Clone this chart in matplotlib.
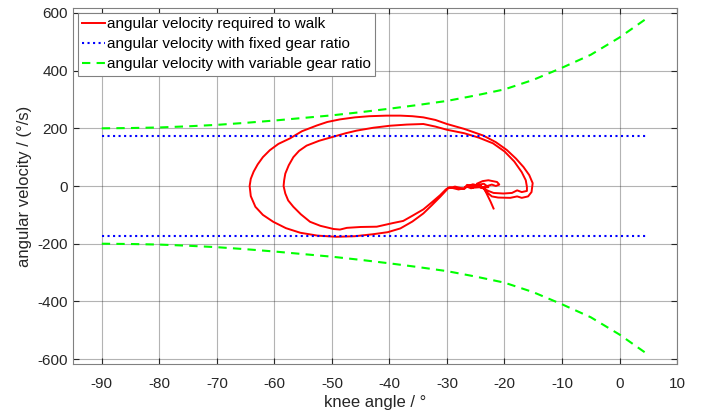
import matplotlib
matplotlib.use('Agg')
import matplotlib.pyplot as plt

plt.rcParams['font.family'] = ['Liberation Sans', 'DejaVu Sans']
plt.rcParams['axes.unicode_minus'] = False

# knee angle (deg) vs required angular velocity (deg/s)
red_x = [-21.9, -22.4, -23.0, -23.5, -24.2, -25.5, -26.6, -25.8, -24.5, -23.6, -22.8, -24.0, -25.2, -26.3,
         -27.0, -28.6, -29.8, -31.2, -32.6, -34.1, -36.0, -38.1, -40.3, -42.8, -46.0, -49.2, -52.5, -55.5,
         -58.0, -60.2, -62.0, -63.3, -64.1, -64.3, -64.1, -63.6, -62.9, -62.0, -60.8, -59.3, -57.3, -55.2,
         -52.6, -50.8, -48.6, -46.0, -43.5, -40.5, -38.1, -36.0, -34.1, -32.0, -30.0, -27.0, -23.7, -21.5,
         -19.6, -18.0, -16.7, -15.7, -15.1, -15.3, -15.9, -17.0, -17.8, -19.0, -21.1, -22.2, -23.1,
         -23.8, -24.8, -23.8, -22.8, -21.3, -20.9, -21.5, -22.2, -23.5, -25.5, -26.5, -27.0,
         -28.0, -29.6, -30.2, -31.2, -32.6, -34.1, -36.0, -37.6, -39.3, -42.2, -45.0, -47.4, -48.6, -49.7,
         -52.0, -53.8, -55.4, -56.7, -57.6, -58.1, -58.4, -58.3, -58.1, -57.5, -56.7, -55.7, -54.4, -52.2,
         -49.7, -47.6, -45.7, -42.8, -39.9, -37.0, -34.1, -32.0, -30.0, -27.0, -24.5, -22.0, -20.0, -18.3,
         -17.0, -16.3, -16.1, -16.1, -17.0, -17.8, -18.7, -20.2, -21.9, -22.8, -24.0, -25.5, -26.8]
red_y = [-78, -55, -30, -10, 0, 6, -2, -8, 4, 8, -4, -6, 3, 1,
         -10, -2, -8, -38, -66, -95, -123, -147, -160, -167, -174, -176, -172, -162,
         -146, -124, -100, -72, -35, 0, 25, 50, 75, 100, 124, 146, 165, 190,
         210, 222, 231, 238, 242, 244, 244, 242, 238, 229, 215, 198, 175, 152,
         125, 95, 66, 38, 10, -21, -36, -41, -36, -41, -40, -36, -21,
         -5, 8, 17, 20, 14, 5, 0, 5, -3, -6, 4, -8,
         -12, -4, -12, -32, -56, -81, -103, -121, -128, -141, -142, -145, -151, -149,
         -138, -124, -98, -72, -50, -26, 0, 20, 43, 72, 100, 122, 140, 157,
         171, 183, 192, 202, 209, 213, 215, 206, 195, 183, 168, 148, 120, 85,
         48, 20, -3, -17, -21, -15, -24, -26, -24, -17, -5, 2, -4]

# fixed gear ratio limit
fixed_x = [-90, 5]
fixed_v = [172, 172]

# variable gear ratio limit
var_x = [-90, -85, -80, -75, -70, -65, -60, -55, -50, -45, -40, -35, -30, -25, -20, -15, -10, -5, 0, 5]
var_v = [200, 201, 203, 207, 212, 219, 227, 236, 245, 256, 268, 281, 295, 314, 335, 368, 410, 455, 515, 585]

fig = plt.figure(figsize=(7.18, 4.12), dpi=100)
ax = fig.add_axes([0.1017, 0.1165, 0.8413, 0.864])

ax.plot(red_x, red_y, color='#ff0000', lw=1.4, label='angular velocity required to walk')
ax.plot(fixed_x, fixed_v, color='#0000ff', lw=1.5, ls=':', label='angular velocity with fixed gear ratio')
ax.plot(fixed_x, [-v for v in fixed_v], color='#0000ff', lw=1.5, ls=':')
ax.plot(var_x, var_v, color='#00ff00', lw=1.5, ls='--', dashes=(4, 3),
        label='angular velocity with variable gear ratio')
ax.plot(var_x, [-v for v in var_v], color='#00ff00', lw=1.5, ls='--', dashes=(4, 3))

ax.set_xlim(-95, 10)
ax.set_ylim(-617, 617)
ax.set_xticks(range(-90, 11, 10))
ax.set_yticks(range(-600, 601, 200))
ax.grid(True, color='#262626', alpha=0.35, lw=0.8)
ax.tick_params(direction='in', top=True, right=True, labelsize=11, colors='#262626', length=4)
ax.tick_params(axis='x', pad=9)
for s in ax.spines.values():
    s.set_color('#808080')
ax.set_xlabel('knee angle / °', fontsize=12, color='#262626', labelpad=3)
ax.set_ylabel('angular velocity / (°/s)', fontsize=12, color='#262626')

leg = ax.legend(loc='upper left', fontsize=11, handlelength=1.5, handletextpad=0.1,
                borderaxespad=0.3, labelspacing=0.4, borderpad=0.3, fancybox=False,
                framealpha=1)
leg.get_frame().set_edgecolor('#808080')
leg.get_frame().set_linewidth(0.8)

fig.savefig('out.png', dpi=100)
